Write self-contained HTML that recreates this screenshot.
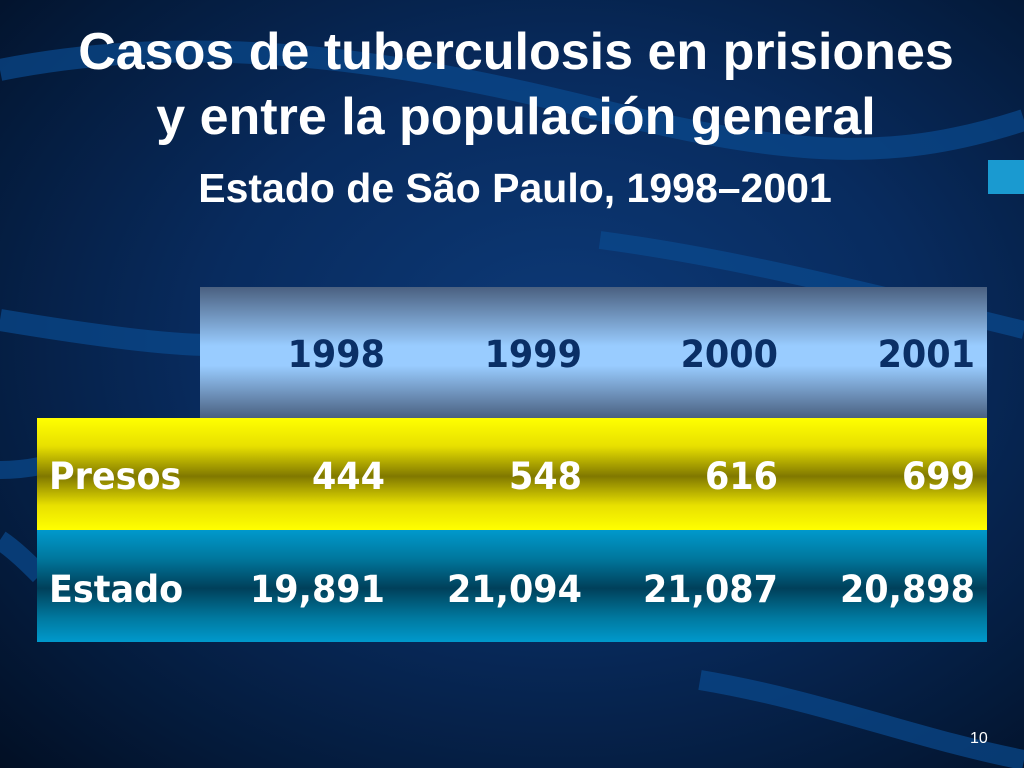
<!DOCTYPE html>
<html><head><meta charset="utf-8"><style>
body{margin:0;width:1024px;height:768px;overflow:hidden;position:relative;font-family:"DejaVu Sans","Liberation Sans",sans-serif;
background:radial-gradient(ellipse at 55% 45%,#0d3a78 0%,#082b5e 45%,#041a3a 80%,#020f24 100%);}
.bg{position:absolute;left:0;top:0}
.t{position:absolute;left:0;width:1024px;text-align:center;color:#fff;font-family:"Liberation Sans",sans-serif;font-weight:bold}
.row{position:absolute;font-weight:bold;font-size:35px;transform:scaleY(1.08);transform-origin:0 50%}
.c{position:absolute;text-align:right;width:190px;transform-origin:100% 50%}
</style></head><body>
<svg class="bg" width="1024" height="768">
<g fill="none" stroke="#0a4a8e" stroke-opacity="0.7">
<path d="M0,70 C200,30 400,60 600,110 S900,160 1024,120" stroke-width="22"/>
<path d="M0,320 C120,340 180,345 210,345" stroke-width="22"/>
<path d="M0,470 C15,470 30,468 40,466" stroke-width="18"/>
<path d="M0,540 C15,550 30,565 40,575" stroke-width="20"/>
<path d="M600,240 C750,260 900,300 1024,330" stroke-width="18"/>
<path d="M700,680 C820,700 920,740 1024,760" stroke-width="20"/>
</g>
<rect x="988" y="160" width="36" height="34" fill="#1a9ad0"/>
</svg>
<div class="t" style="top:20px;font-size:52px;line-height:65px;left:4px">Casos de tuberculosis en prisiones<br>y entre la populación general</div>
<div class="t" style="top:165px;font-size:41px;left:3px">Estado de São Paulo, 1998–2001</div>

<div style="position:absolute;left:200px;top:287px;width:787px;height:131px;background:linear-gradient(#4a6080,#99ccff 45%,#99ccff 60%,#4a6080)"></div>
<div style="position:absolute;left:37px;top:418px;width:950px;height:112px;background:linear-gradient(#ffff00,#e8e000 25%,#807800 52%,#e8e000 78%,#ffff00)"></div>
<div style="position:absolute;left:37px;top:530px;width:950px;height:112px;background:linear-gradient(#0099cc,#00789e 25%,#00405a 52%,#00789e 78%,#0099cc)"></div>

<div id="tbl"></div>
<div style="position:absolute;left:970px;top:730px;color:#fff;font-size:16px;font-family:'Liberation Sans',sans-serif">10</div>
<script>
const years=["1998","1999","2000","2001"];
const presos=["444","548","616","699"];
const estado=["19,891","21,094","21,087","20,898"];
const colRight=[385,582,778,975];
const tbl=document.getElementById('tbl');
function addRow(label,vals,top,color,name){
  if(label){const l=document.createElement('div');l.className='row';l.style.left='49px';l.style.top=top+'px';l.style.color=color;l.textContent=label;
  
  tbl.appendChild(l);}
  vals.forEach((v,i)=>{const d=document.createElement('div');d.className='row c';d.style.left=(colRight[i]-190)+'px';d.style.top=top+'px';d.style.color=color;d.textContent=v;
  
  tbl.appendChild(d);});
}
addRow(null,years,335,'#0a2f66','year-header');
addRow('Presos',presos,457,'#fff','presos');
addRow('Estado',estado,570,'#fff','estado');
</script>
</body></html>
